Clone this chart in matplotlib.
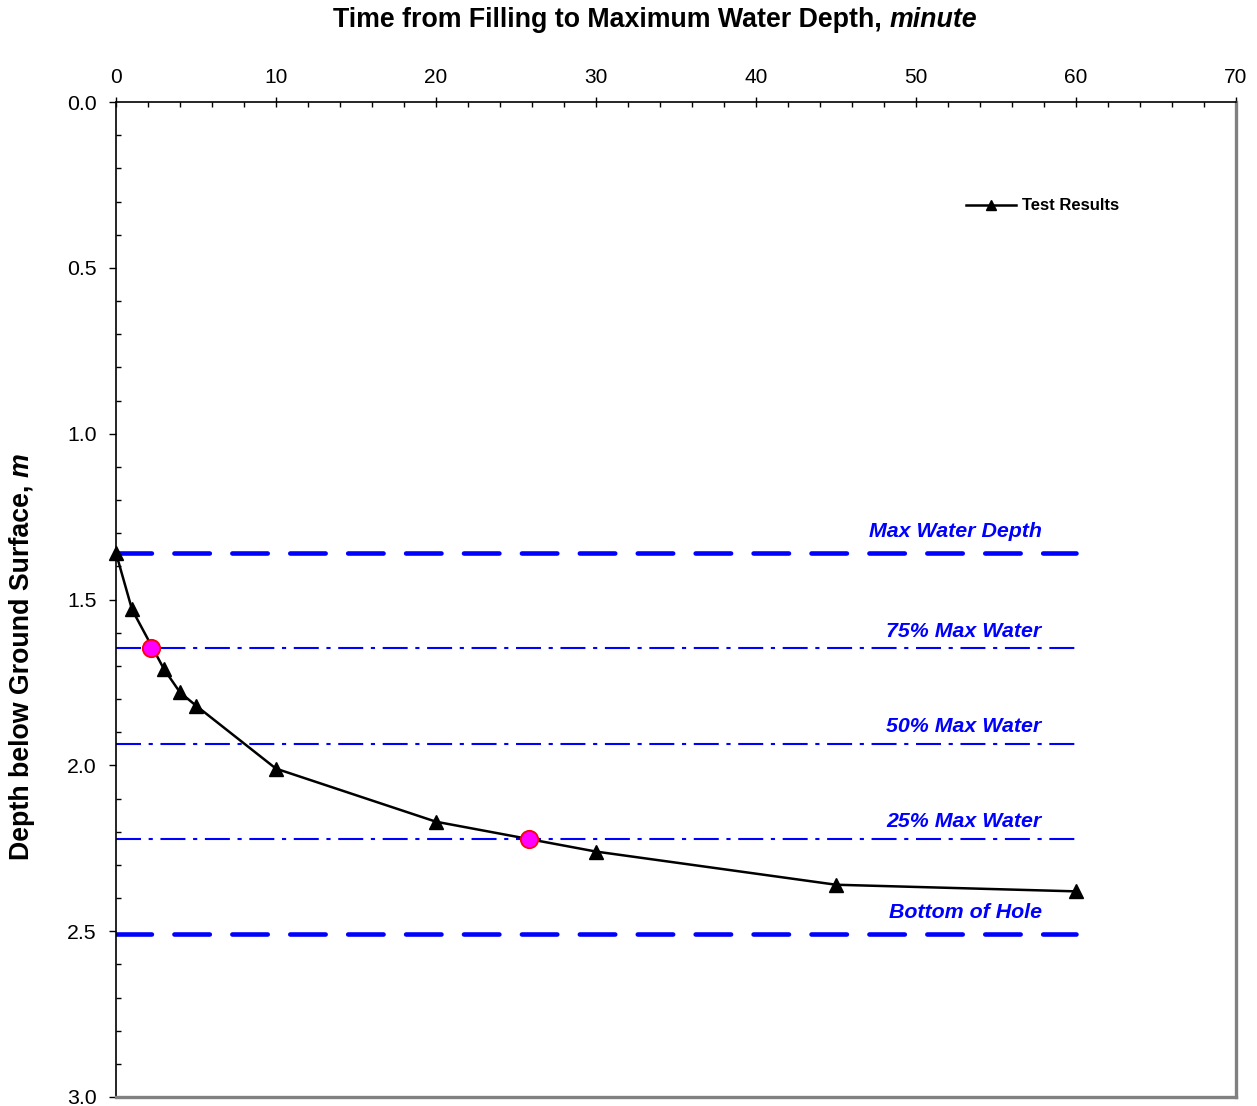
import matplotlib
matplotlib.use("Agg")
import matplotlib.pyplot as plt
import numpy as np

plt.rcParams['font.family'] = ['Liberation Sans', 'DejaVu Sans']
plt.rcParams['lines.scale_dashes'] = False

# Data
time_min = [0, 1, 3, 4, 5, 10, 20, 30, 45, 60]
depth_m = [1.36, 1.53, 1.71, 1.78, 1.82, 2.01, 2.17, 2.26, 2.36, 2.38]
marker_time = [2.2, 25.8]
marker_depth = [1.6475, 2.2225]
ref_names = ["Max Water Depth", "75% Max Water", "50% Max Water", "25% Max Water", "Bottom of Hole"]
ref_depths = [1.36, 1.6475, 1.935, 2.2225, 2.51]
ref_styles = ["dash", "dashdot", "dashdot", "dashdot", "dash"]
ref_x_start, ref_x_end = 0, 60
label_x = 57.85

W, H = 1257, 1106
fig = plt.figure(figsize=(W / 100, H / 100), dpi=100)
ax = fig.add_axes([116 / W, 1 - 1097 / H, 1120 / W, 995 / H])

blue = "#0000FF"
for name, d, st in zip(ref_names, ref_depths, ref_styles):
    if st == "dash":
        ax.plot([ref_x_start, ref_x_end], [d, d], color=blue, lw=3.3,
                linestyle=(0, (25.5, 16.2)), dash_capstyle='round', zorder=2)
        off = 15.5
    else:
        ax.plot([ref_x_start, ref_x_end], [d, d], color=blue, lw=1.5,
                linestyle=(0, (18, 5.5, 3, 5.5)), zorder=2)
        off = 12.5
    ax.annotate(name, xy=(label_x, d), xytext=(0, off), textcoords='offset points',
                ha='right', va='center', color=blue, fontsize=15.4,
                fontweight='bold', fontstyle='italic')

ax.plot(time_min, depth_m, color='black', lw=1.8, marker='^', markersize=10.5,
        label='Test Results', zorder=3, clip_on=False)
ax.plot(marker_time, marker_depth, linestyle='none', marker='o', markersize=12.5,
        markerfacecolor='#FF00FF', markeredgecolor='#FF0000', markeredgewidth=1.3, zorder=4)

ax.set_xlim(0, 70)
ax.set_ylim(3.0, 0.0)
ax.xaxis.tick_top()
ax.set_xticks(np.arange(0, 71, 10))
ax.set_xticks(np.arange(0, 71, 2), minor=True)
ax.set_yticks(np.arange(0, 3.01, 0.5))
ax.set_yticks(np.arange(0, 3.01, 0.1), minor=True)
ax.set_yticklabels([f"{v:.1f}" for v in np.arange(0, 3.01, 0.5)])
ax.tick_params(axis='x', which='major', direction='inout', length=7, width=1, labelsize=15, pad=7)
ax.tick_params(axis='x', which='minor', direction='in', length=3.5, width=1)
ax.tick_params(axis='y', which='major', direction='out', length=5, width=1, labelsize=15.3, pad=9)
ax.tick_params(axis='y', which='minor', direction='in', length=3.5, width=1)

for s in ['left', 'top']:
    ax.spines[s].set_color('black')
    ax.spines[s].set_linewidth(1.2)
for s in ['right', 'bottom']:
    ax.spines[s].set_color('#808080')
    ax.spines[s].set_linewidth(2.4)

leg = ax.legend(loc='center left', bbox_to_anchor=((966 - 116) / 1120, 1 - (206 - 102) / 995),
                frameon=False, handlelength=3.0, handletextpad=0.35, borderpad=0,
                borderaxespad=0, prop={'weight': 'bold', 'size': 12}, markerscale=0.75)

# Titles with mixed bold / bold-italic
t1 = fig.text(333 / W, 1 - 20 / H, "Time from Filling to Maximum Water Depth, ",
              ha='left', va='center', fontsize=19.25, fontweight='bold')
ax.annotate("minute", xy=(1, 0), xycoords=t1, ha='left', va='bottom',
            fontsize=19.25, fontweight='bold', fontstyle='italic', annotation_clip=False)

y1 = fig.text(22 / W, 1 - 860 / H, "Depth below Ground Surface, ", rotation=90,
              ha='center', va='bottom', fontsize=19.25, fontweight='bold')
ax.annotate("m", xy=(0.5, 1), xycoords=y1, ha='center', va='bottom', rotation=90,
            fontsize=19.25, fontweight='bold', fontstyle='italic', annotation_clip=False)

fig.savefig("out.png", dpi=100)
